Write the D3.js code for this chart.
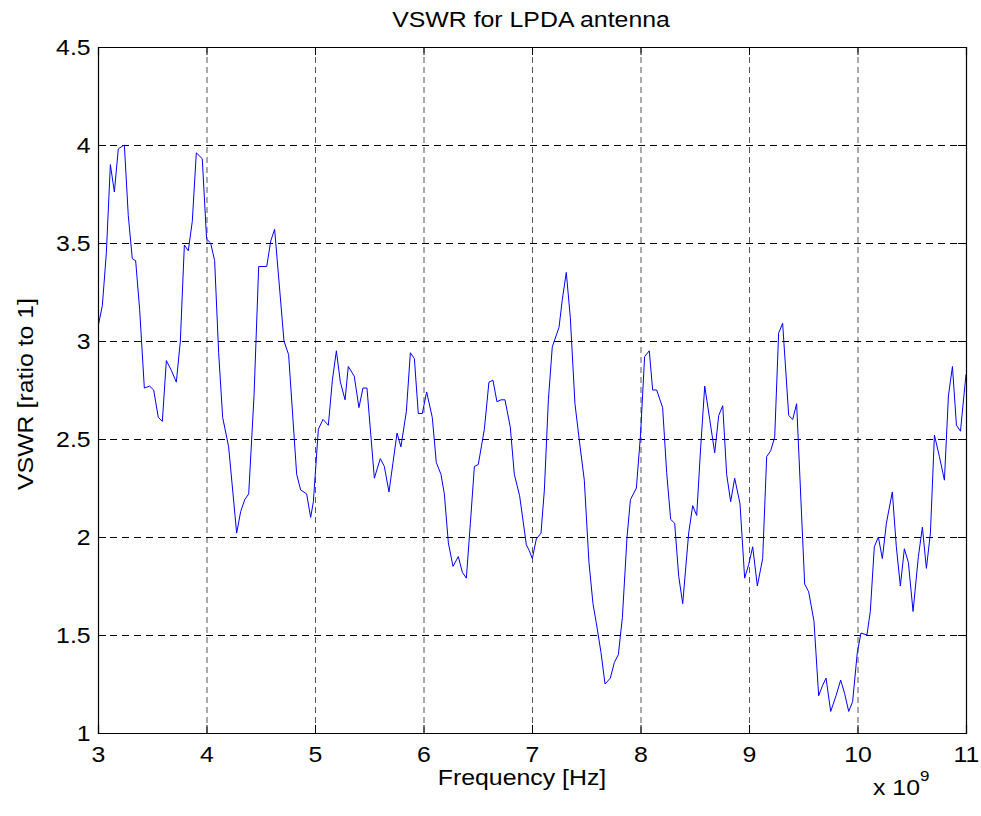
<!DOCTYPE html>
<html>
<head>
<meta charset="utf-8">
<script src="https://cdn.jsdelivr.net/npm/d3@7"></script>
<style>
  body { margin: 0; background: #fff; }
  svg { display: block; }
  text { font-family: "Liberation Sans", Arial, sans-serif; fill: #000; }
</style>
</head>
<body>
<div id="chart"></div>
<script>
// frequenza in GHz (asse x in unità di 10^9 Hz)
let freqGHz = [
  3.003, 3.040, 3.077, 3.114, 3.151, 3.187, 3.213, 3.243, 3.279, 3.316,
  3.347, 3.384, 3.427, 3.476, 3.513, 3.556, 3.593, 3.630, 3.676, 3.722,
  3.759, 3.796, 3.832, 3.869, 3.906, 3.961, 4.001, 4.038, 4.075, 4.112,
  4.149, 4.204, 4.278, 4.315, 4.352, 4.389, 4.438, 4.481, 4.555, 4.592,
  4.628, 4.714, 4.757, 4.831, 4.868, 4.923, 4.960, 4.985, 5.031, 5.074,
  5.123, 5.160, 5.197, 5.234, 5.277, 5.307, 5.362, 5.405, 5.442, 5.479,
  5.547, 5.602, 5.639, 5.682, 5.719, 5.756, 5.792, 5.842, 5.879, 5.916,
  5.952, 5.989, 6.029, 6.081, 6.118, 6.161, 6.192, 6.229, 6.272, 6.321,
  6.358, 6.395, 6.432, 6.469, 6.505, 6.561, 6.603, 6.640, 6.677, 6.714,
  6.751, 6.800, 6.837, 6.886, 6.948, 6.975, 7.003, 7.040, 7.083, 7.114,
  7.151, 7.187, 7.249, 7.279, 7.316, 7.353, 7.396, 7.439, 7.482, 7.525,
  7.562, 7.599, 7.636, 7.673, 7.722, 7.759, 7.796, 7.833, 7.876, 7.907,
  7.962, 8.000, 8.038, 8.081, 8.112, 8.149, 8.204, 8.241, 8.278, 8.315,
  8.352, 8.389, 8.444, 8.481, 8.518, 8.555, 8.592, 8.638, 8.684, 8.721,
  8.758, 8.794, 8.831, 8.868, 8.917, 8.960, 8.997, 9.034, 9.077, 9.126,
  9.163, 9.200, 9.237, 9.273, 9.310, 9.366, 9.403, 9.439, 9.513, 9.550,
  9.599, 9.642, 9.676, 9.710, 9.753, 9.802, 9.845, 9.882, 9.919, 9.955,
  9.998, 10.032, 10.087, 10.118, 10.155, 10.192, 10.229, 10.266, 10.321, 10.358,
  10.395, 10.432, 10.469, 10.512, 10.561, 10.598, 10.635, 10.672, 10.709, 10.755,
  10.801, 10.838, 10.875, 10.912, 10.949, 11.000
];

let vswr = [
  3.08, 3.18, 3.45, 3.90, 3.76, 3.98, 3.99, 4.00, 3.64, 3.42,
  3.41, 3.16, 2.76, 2.77, 2.75, 2.61, 2.59, 2.90, 2.85, 2.79,
  3.00, 3.49, 3.46, 3.61, 3.96, 3.93, 3.52, 3.50, 3.41, 2.94,
  2.61, 2.46, 2.02, 2.13, 2.19, 2.22, 2.72, 3.38, 3.38, 3.51,
  3.57, 3.00, 2.93, 2.32, 2.24, 2.22, 2.10, 2.18, 2.55, 2.60,
  2.57, 2.80, 2.95, 2.79, 2.70, 2.87, 2.82, 2.66, 2.76, 2.76,
  2.30, 2.40, 2.36, 2.23, 2.38, 2.53, 2.46, 2.64, 2.94, 2.91,
  2.63, 2.63, 2.74, 2.61, 2.38, 2.32, 2.22, 1.97, 1.85, 1.90,
  1.82, 1.79, 2.07, 2.36, 2.37, 2.55, 2.79, 2.80, 2.69, 2.70,
  2.70, 2.56, 2.32, 2.21, 1.96, 1.93, 1.89, 1.99, 2.02, 2.24,
  2.70, 2.97, 3.07, 3.21, 3.35, 3.12, 2.68, 2.48, 2.29, 1.87,
  1.66, 1.54, 1.41, 1.25, 1.28, 1.36, 1.40, 1.59, 2.00, 2.19,
  2.25, 2.52, 2.92, 2.95, 2.75, 2.75, 2.66, 2.33, 2.09, 2.07,
  1.80, 1.66, 2.02, 2.16, 2.11, 2.46, 2.77, 2.60, 2.43, 2.62,
  2.67, 2.32, 2.18, 2.30, 2.17, 1.79, 1.86, 1.95, 1.75, 1.89,
  2.41, 2.44, 2.51, 3.04, 3.09, 2.62, 2.60, 2.68, 1.76, 1.72,
  1.57, 1.19, 1.24, 1.28, 1.11, 1.19, 1.27, 1.20, 1.11, 1.16,
  1.41, 1.51, 1.50, 1.62, 1.95, 2.00, 1.89, 2.07, 2.23, 1.95,
  1.75, 1.94, 1.87, 1.62, 1.90, 2.05, 1.84, 2.02, 2.52, 2.41,
  2.29, 2.72, 2.87, 2.57, 2.54, 2.83
];

let xTicks = [3, 4, 5, 6, 7, 8, 9, 10, 11];
let yTicks = [1, 1.5, 2, 2.5, 3, 3.5, 4, 4.5];

let width = 981, height = 816;
let margin = {top: 47, right: 15, bottom: 83, left: 98};
let plotW = width - margin.left - margin.right,
plotH = height - margin.top - margin.bottom;

// testo stirato in orizzontale come nell'originale
let stretch = "scale(1.13,1)";
let fontSize = "22px";

let x = d3.scaleLinear()
.domain([3, 11])
.range([0, plotW]);

let y = d3.scaleLinear()
.domain([1, 4.5])
.range([plotH, 0]);

let svg = d3.select("#chart").append("svg")
.attr("width", width)
.attr("height", height);

let g = svg.append("g")
.attr("transform", "translate(" + margin.left + "," + margin.top + ")");

// griglia tratteggiata
g.selectAll(".vgrid")
.data(xTicks.slice(1, -1))
.enter()
.append("line")
.attr("x1", d => x(d) + 0.5)
.attr("x2", d => x(d) + 0.5)
.attr("y1", 0)
.attr("y2", plotH)
.attr("stroke", "#555")
.attr("stroke-width", 1)
.attr("stroke-dasharray", "6,4");

g.selectAll(".hgrid")
.data(yTicks.slice(1, -1))
.enter()
.append("line")
.attr("x1", 0)
.attr("x2", plotW)
.attr("y1", d => y(d) + 0.5)
.attr("y2", d => y(d) + 0.5)
.attr("stroke", "#000")
.attr("stroke-width", 1)
.attr("stroke-dasharray", "7,5");

// curva VSWR
let line = d3.line()
.x((d, i) => x(freqGHz[i]))
.y(d => y(d));

g.append("path")
.datum(vswr)
.attr("d", line)
.attr("fill", "none")
.attr("stroke", "#0000ff")
.attr("stroke-width", 1);

// assi (tick verso l'interno, su tutti i lati)
let xAxisBottom = d3.axisBottom(x).tickValues(xTicks).tickSize(-8).tickPadding(14).tickFormat(d3.format("d"));
let xAxisTop = d3.axisTop(x).tickValues(xTicks).tickSize(-8).tickFormat("");
let yAxisLeft = d3.axisLeft(y).tickValues(yTicks).tickSize(-8).tickPadding(14).tickFormat(d => d);
let yAxisRight = d3.axisRight(y).tickValues(yTicks).tickSize(-8).tickFormat("");

let bottomAx = g.append("g")
.attr("transform", "translate(0," + plotH + ")")
.call(xAxisBottom);

g.append("g").call(xAxisTop);

let leftAx = g.append("g").call(yAxisLeft);

g.append("g")
.attr("transform", "translate(" + plotW + ",0)")
.call(yAxisRight);

g.selectAll(".domain")
.attr("stroke", "#000")
.attr("stroke-width", 1.2);

g.selectAll(".tick line")
.attr("stroke", "#000");

bottomAx.selectAll("text")
.attr("y", 29)
.attr("dy", 0)
.attr("transform", stretch)
.style("font-size", fontSize);

leftAx.selectAll("text")
.attr("x", -6.5)
.attr("dy", "0.36em")
.attr("transform", stretch)
.style("font-size", fontSize);

// titolo ed etichette
svg.append("text")
.attr("transform", "translate(531,27) " + stretch)
.attr("text-anchor", "middle")
.style("font-size", fontSize)
.text("VSWR for LPDA antenna");

svg.append("text")
.attr("transform", "translate(522,785) " + stretch)
.attr("text-anchor", "middle")
.style("font-size", fontSize)
.text("Frequency [Hz]");

svg.append("text")
.attr("transform", "translate(33,394) rotate(-90) " + stretch)
.attr("text-anchor", "middle")
.style("font-size", fontSize)
.text("VSWR [ratio to 1]");

let expo = svg.append("text")
.attr("transform", "translate(873,795) " + stretch)
.style("font-size", fontSize);

expo.append("tspan").text("x 10");
expo.append("tspan")
.attr("dy", -14)
.style("font-size", "15px")
.text("9");
</script>
</body>
</html>
